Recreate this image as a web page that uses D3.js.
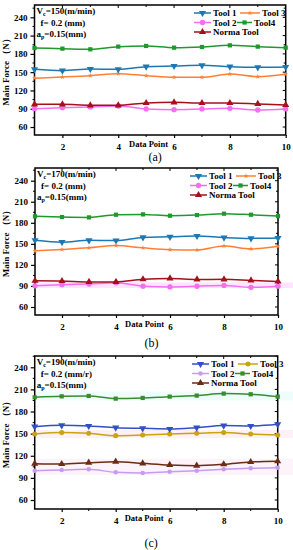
<!DOCTYPE html>
<html><head><meta charset="utf-8">
<script src="https://cdn.jsdelivr.net/npm/d3@7"></script>
<style>
html,body{margin:0;padding:0;background:#fff;}
svg{display:block;}
text{font-family:"Liberation Serif","DejaVu Serif",serif;}
</style>
</head><body>
<svg id="chart" width="293" height="550"></svg>
<script>
const dataPoints = [1,2,3,4,5,6,7,8,9,10];
const xTicks = [2,4,6,8,10];
const yTicks = [60,90,120,150,180,210,240];
const seriesNames = ["Tool 1","Tool 3","Tool 2","Tool4","Norma Tool"];

// Panel (a) Vc=150
const a_tool1 = [154.7,152.5,155.2,154.7,159.0,160.1,161.2,159.0,158.0,158.5];
const a_tool3 = [140.0,142.0,144.3,147.5,144.3,141.5,141.5,147.0,142.6,146.5];
const a_tool2 = [90.1,91.8,92.9,94.5,89.6,88.5,89.6,90.7,87.9,89.6];
const a_tool4 = [189.7,188.6,187.5,191.9,193.0,190.2,191.3,194.0,191.9,190.2];
const a_norma = [97.2,97.2,95.6,95.6,99.4,100.5,99.4,99.4,97.8,96.1];

// Panel (b) Vc=170
const b_tool1 = [155.2,152.4,155.0,154.8,159.2,160.0,161.2,159.0,157.8,158.4];
const b_tool3 = [140.0,142.0,144.3,147.5,144.3,141.7,141.3,147.0,142.8,146.5];
const b_tool2 = [90.2,91.8,92.8,94.4,89.7,88.6,89.6,90.8,88.0,89.7];
const b_tool4 = [189.2,188.2,187.7,191.5,192.0,190.1,191.0,193.0,191.5,189.6];
const b_norma = [97.4,97.0,95.8,95.7,99.5,100.7,99.3,99.4,97.9,96.4];

// Panel (c) Vc=190
const c_tool1 = [159.5,161.3,160.4,158.1,157.2,156.3,158.1,160.9,160.4,162.7];
const c_tool3 = [149.5,151.4,150.4,147.3,148.2,149.5,150.4,151.4,149.5,148.2];
const c_tool2 = [99.8,100.7,101.6,97.5,96.6,98.4,99.8,101.6,103.0,103.9];
const c_tool4 = [199.3,200.6,201.1,197.5,198.4,200.2,201.6,204.3,203.4,200.2];
const c_norma = [109.3,108.8,110.6,111.9,109.7,107.5,106.6,108.4,111.5,112.5];

// faint highlight bands (value ranges)
const b_bands = [[87,95,"#ffe4ff"]];
const c_bands = [[195,207,"#eefcfc"],[144,155,"#fdf0f7"],[94,116,"#fdf3fa"]];

const svg = d3.select("#chart");

function drawPanel(cfg){
  const g = svg.append("g");
  const x = d3.scaleLinear().domain([1,10]).range([cfg.left, cfg.right]);
  const y = d3.scaleLinear().domain(cfg.yDomain).range([cfg.bottom, cfg.top]);

  (cfg.bands||[]).forEach(b=>{
    g.append("rect").attr("x", cfg.left).attr("width", 293-cfg.left)
      .attr("y", y(b[1])).attr("height", y(b[0])-y(b[1]))
      .attr("fill", b[2]);
  });

  g.append("rect").attr("x",cfg.left).attr("y",cfg.top)
    .attr("width",cfg.right-cfg.left).attr("height",cfg.bottom-cfg.top)
    .attr("fill","none").attr("stroke","#000").attr("stroke-width",1.5);

  const fontTick = "bold 9px 'Liberation Serif', serif";
  const yAx = d3.axisLeft(y).tickValues(yTicks).tickSize(4).tickPadding(3).tickFormat(d3.format("d"));
  const ga = g.append("g").attr("transform",`translate(${cfg.left},0)`).call(yAx);
  const yMinor = d3.range(45,260,30).filter(v=>v>cfg.yDomain[0]&&v<cfg.yDomain[1]);
  const xAx = d3.axisBottom(x).tickValues(xTicks).tickSize(3).tickPadding(6).tickFormat(d3.format("d"));
  const gb = g.append("g").attr("transform",`translate(0,${cfg.bottom})`).call(xAx);
  [ga,gb].forEach(s=>{
    s.select(".domain").remove();
    s.selectAll("line").attr("stroke","#000").attr("stroke-width",1.2);
    s.selectAll("text").style("font",fontTick).attr("fill","#000");
  });
  yMinor.forEach(v=>{
    g.append("line").attr("x1",cfg.left).attr("x2",cfg.left-2).attr("y1",y(v)).attr("y2",y(v)).attr("stroke","#000");
  });
  [3,5,7,9].forEach(v=>{
    g.append("line").attr("x1",x(v)).attr("x2",x(v)).attr("y1",cfg.bottom).attr("y2",cfg.bottom+2).attr("stroke","#000");
  });
  dataPoints.slice(1,9).forEach(v=>{
    const len = v%2===0?3:2;
    g.append("line").attr("x1",x(v)).attr("x2",x(v)).attr("y1",cfg.top).attr("y2",cfg.top+len).attr("stroke","#000");
  });
  yTicks.concat(yMinor).forEach(v=>{
    const len = yTicks.includes(v)?3:2;
    g.append("line").attr("x1",cfg.right).attr("x2",cfg.right-len).attr("y1",y(v)).attr("y2",y(v)).attr("stroke","#000");
  });

  g.append("text").attr("x",x(6)-6).attr("y",cfg.bottom+12)
    .attr("text-anchor","end").style("font","bold 8.5px 'Liberation Serif', serif").text("Data Point");
  g.append("text").attr("transform",`translate(9,${(cfg.top+cfg.bottom)/2}) rotate(-90)`)
    .attr("text-anchor","middle").style("font","bold 9px 'Liberation Serif', serif").text("Main Force （N）");
  g.append("text").attr("x",(cfg.left+cfg.right)/2 - 5).attr("y",cfg.subY)
    .attr("text-anchor","middle").style("font","12px 'Liberation Serif', serif").text(cfg.sub);

  const line = d3.line().x((d,i)=>x(dataPoints[i])).y(d=>y(d)).curve(d3.curveMonotoneX);
  const syms = {
    "Tool 1":{t:d3.symbolTriangle,r:180,s:22},
    "Tool 3":{t:cfg.tool3Sym==="circle"?d3.symbolCircle:d3.symbolStar,r:0,s:cfg.tool3Sym==="circle"?20:8},
    "Tool 2":{t:d3.symbolCircle,r:0,s:cfg.tool3Sym==="circle"?16:22},
    "Tool4":{t:d3.symbolSquare,r:0,s:18},
    "Norma Tool":{t:d3.symbolTriangle,r:0,s:22}
  };
  const order = ["Tool 3","Tool 2","Norma Tool","Tool 1","Tool4"];
  order.forEach(name=>{
    const vals = cfg.series[name], col = cfg.colors[name];
    g.append("path").datum(vals).attr("d",line).attr("fill","none").attr("stroke",col).attr("stroke-width",1.5);
    g.selectAll(null).data(vals).enter().append("path")
      .attr("d",d3.symbol().type(syms[name].t).size(syms[name].s))
      .attr("transform",(d,i)=>`translate(${x(dataPoints[i])},${y(d)}) rotate(${syms[name].r})`)
      .attr("fill",col);
  });

  const af = "bold 9px 'Liberation Serif', serif";
  const t1 = g.append("text").attr("x",cfg.left+2).attr("y",cfg.top+9).style("font",af);
  t1.append("tspan").text("V");
  t1.append("tspan").attr("dy",2).style("font-size","6px").text("c");
  t1.append("tspan").attr("dy",-2).text(cfg.vc);
  g.append("text").attr("x",cfg.left+6).attr("y",cfg.top+21).style("font",af).text(cfg.feed);
  const t3 = g.append("text").attr("x",cfg.left+2).attr("y",cfg.top+32).style("font",af);
  t3.append("tspan").text("a");
  t3.append("tspan").attr("dy",2).style("font-size","6px").text("p");
  t3.append("tspan").attr("dy",-2).text("=0.15(mm)");

  // legend
  const lx = cfg.legX, ly = cfg.top+8, rh = 9.5;
  const items = [
    ["Tool 1",0,0,0,17],["Tool 3",1,0,46,20],["Tool 2",0,1,0,17],["Tool4",1,1,43,15],["Norma Tool",0,2,0,17]
  ];
  items.forEach(([name,c,r,off,len])=>{
    const x0 = lx + off;
    const yy = ly + r*rh;
    const col = cfg.colors[name];
    g.append("line").attr("x1",x0).attr("x2",x0+len).attr("y1",yy).attr("y2",yy).attr("stroke",col).attr("stroke-width",1.5);
    g.append("path").attr("d",d3.symbol().type(syms[name].t).size(syms[name].s))
      .attr("transform",`translate(${x0+len/2},${yy}) rotate(${syms[name].r})`).attr("fill",col);
    g.append("text").attr("x",x0+len+2).attr("y",yy+3).style("font",af).text(name);
  });
}

const colorsAB = {"Tool 1":"#1b78b4","Tool 3":"#ff8033","Tool 2":"#f56ef2","Tool4":"#1e9a2c","Norma Tool":"#a5101c"};
const colorsC = {"Tool 1":"#3050c4","Tool 3":"#c9a40e","Tool 2":"#c69cf2","Tool4":"#3a8c2c","Norma Tool":"#6b2c12"};

drawPanel({top:5,bottom:135,left:34.5,right:285.7,yDomain:[46.9,260.2],subY:161,sub:"(a)",
  vc:"=150(m/min)",feed:"f= 0.2 (mm)",legX:194,colors:colorsAB,tool3Sym:"star",
  series:{"Tool 1":a_tool1,"Tool 3":a_tool3,"Tool 2":a_tool2,"Tool4":a_tool4,"Norma Tool":a_norma}});
drawPanel({top:168,bottom:315,left:35,right:278,yDomain:[48.6,258.1],subY:347,sub:"(b)",
  vc:"=170(m/min)",feed:"f= 0.2 (mm)",legX:190,colors:colorsAB,tool3Sym:"star",bands:b_bands,
  series:{"Tool 1":b_tool1,"Tool 3":b_tool3,"Tool 2":b_tool2,"Tool4":b_tool4,"Norma Tool":b_norma}});
drawPanel({top:356,bottom:509,left:34.7,right:277.7,yDomain:[47.8,255.3],subY:547,sub:"(c)",
  vc:"=190(m/min)",feed:"f= 0.2 (mm/r)",legX:192,colors:colorsC,tool3Sym:"circle",bands:c_bands,
  series:{"Tool 1":c_tool1,"Tool 3":c_tool3,"Tool 2":c_tool2,"Tool4":c_tool4,"Norma Tool":c_norma}});
</script>
</body></html>
